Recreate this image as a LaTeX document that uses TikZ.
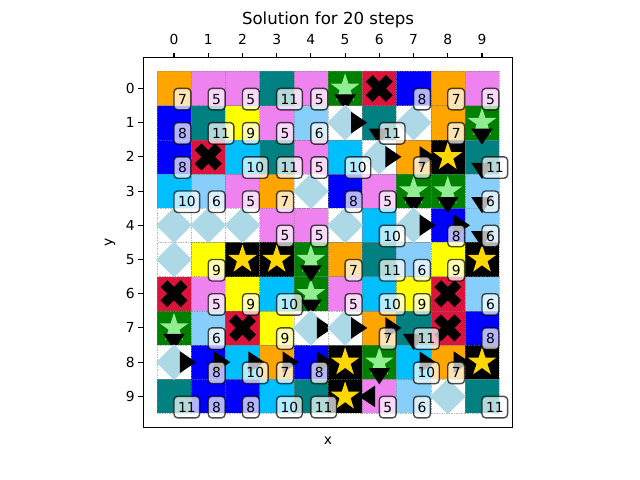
\documentclass[tikz,border=0pt]{standalone}
\usepackage{fontspec}
\setmainfont{DejaVu Sans}
\usepackage{xcolor}
\usetikzlibrary{shapes.geometric}
\definecolor{cellorange}{RGB}{255,165,0}
\definecolor{cellviolet}{RGB}{238,130,238}
\definecolor{cellteal}{RGB}{0,128,128}
\definecolor{cellblue}{RGB}{0,0,255}
\definecolor{cellsky}{RGB}{135,206,250}
\definecolor{cellyellow}{RGB}{255,255,0}
\definecolor{celldeep}{RGB}{0,191,255}
\definecolor{cellcrimson}{RGB}{220,20,60}
\definecolor{cellgreen}{RGB}{0,128,0}
\definecolor{markgold}{RGB}{255,215,0}
\definecolor{marklight}{RGB}{144,238,144}
\definecolor{markpale}{RGB}{173,216,230}
\tikzset{
  cell/.style={rectangle, minimum size=0.3422in, inner sep=0pt, outer sep=0pt,
    draw=gray, draw opacity=0.55, line width=0.2pt, densely dotted},
  starmark/.style={star, star points=5, star point ratio=2.618,
    minimum size=21.8pt, inner sep=0pt},
  icemark/.style={diamond, fill=markpale, minimum width=26pt,
    minimum height=26pt, inner sep=0pt},
  numbox/.style={rectangle, anchor=north west, rounded corners=2.6pt,
    draw=black, draw opacity=0.7, fill=white, fill opacity=0.7, text opacity=1,
    line width=1pt, inner xsep=2.9pt, inner ysep=0pt, outer sep=0pt,
    minimum height=15.5pt, font=\fontsize{10}{12}\selectfont},
  tickline/.style={line width=0.8pt},
  crossmark/.pic={
    \fill[black] (-.197,-.394) -- (0,-.197) -- (.197,-.394) -- (.394,-.197)
      -- (.197,0) -- (.394,.197) -- (.197,.394) -- (0,.197) -- (-.197,.394)
      -- (-.394,.197) -- (-.197,0) -- (-.394,-.197) -- cycle;
  },
  pointer/.pic={
    \fill[black] (-.236,-.315) -- (.236,0) -- (-.236,.315) -- cycle;
  }
}
% kind colour / number / row/column of the cells
\newcommand{\numberedcells}{
  cellorange/7/{0/0,0/8,1/8,2/7,3/3,5/5,7/6,8/3,8/8},
  cellviolet/5/{0/1,0/2,0/4,0/9,1/3,2/4,3/2,3/6,4/3,4/4,6/1,6/5,9/6},
  cellteal/11/{0/3,1/1,1/6,2/3,2/9,5/6,7/7,9/0,9/4,9/9},
  cellblue/8/{0/7,1/0,2/0,3/5,4/8,7/9,8/1,8/4,9/1,9/2},
  cellsky/6/{1/4,3/1,3/9,4/9,5/7,6/9,7/1,9/7},
  cellyellow/9/{1/2,5/1,5/8,6/2,6/7,7/3},
  celldeep/10/{2/2,2/5,3/0,4/6,6/3,6/6,8/2,8/7,9/3}}
\begin{document}
\begin{tikzpicture}[x=0.3422in, y=-0.3422in]
  \useasboundingbox (-5.085,-2.583) rectangle (13.617,11.443);

  % Axes frame
  \draw[tickline] (-0.9,-0.9) rectangle (9.9,9.9);
  \node[anchor=base, font=\fontsize{12}{14}\selectfont] (title) at (4.5,-1.853) {Solution for 20 steps};
  \node[anchor=base, font=\fontsize{10}{12}\selectfont] (xlabel) at (4.5,10.42) {x};
  \node[anchor=base, rotate=90, font=\fontsize{10}{12}\selectfont] (ylabel) at (-1.8,4.5) {y};

  % Ticks
  \foreach \i in {0,...,9} {
    \draw[tickline] (\i,-0.9) -- (\i,-1.042);
    \draw[tickline] (-0.9,\i) -- (-1.042,\i);
    \node[anchor=base, inner sep=0pt, font=\fontsize{10}{12}\selectfont] (xt\i) at (\i,-1.268) {\i};
    \node[anchor=east, inner sep=0pt, font=\fontsize{10}{12}\selectfont] (yt\i) at (-1.14,\i) {\i};
  }

  % Numbered cells
  \foreach \kindcolor/\kindnum/\kindcells in \numberedcells {
    \foreach \r/\c in \kindcells {
      \node[cell, fill=\kindcolor] (c\r\c) at (\c,\r) {};
    }
  }

  % Crimson cells
  \foreach \r/\c in {0/6,2/1,6/0,6/8,7/2,7/8} {
    \node[cell, fill=cellcrimson] (c\r\c) at (\c,\r) {};
    \pic at (c\r\c.center) {crossmark};
  }

  % Black cells
  \foreach \r/\c in {2/8,5/2,5/3,5/9,8/5,8/9,9/5} {
    \node[cell, fill=black] (c\r\c) at (\c,\r) {};
    \node[starmark, fill=markgold] (m\r\c) at (c\r\c.center) {};
  }

  % Green cells
  \foreach \r/\c in {0/5,1/9,3/7,3/8,5/4,6/4,7/0,8/6} {
    \node[cell, fill=cellgreen] (c\r\c) at (\c,\r) {};
    \node[starmark, fill=marklight] (m\r\c) at (c\r\c.center) {};
  }

  % Arrows on coloured cells
  \foreach \r/\c in {2/7,4/8,7/6,8/1,8/2,8/3,8/4,8/7,8/8} {
    \pic at (\c+0.41,\r) {pointer};
  }
  \foreach \r/\c in {0/5,1/6,1/9,2/9,3/7,3/8,3/9,4/9,5/4,6/4,7/0,7/7,8/6} {
    \pic[rotate=-90] at (\c,\r+0.41) {pointer};
  }
  \pic[rotate=180] at (5.64,9) {pointer};

  % White cells, last flag is an arrow
  \foreach \r/\c/\hasarrow in {1/5/1,1/7/0,2/6/1,3/4/0,4/0/0,4/1/0,4/2/0,4/5/0,4/7/1,5/0/0,7/4/1,7/5/1,8/0/1,9/8/0} {
    \node[cell, fill=white] (c\r\c) at (\c,\r) {};
    \node[icemark] (m\r\c) at (c\r\c.center) {};
    \ifnum\hasarrow=1
      \pic at (\c+0.41,\r) {pointer};
    \fi
  }

  % Number labels
  \foreach \kindcolor/\kindnum/\kindcells in \numberedcells {
    \foreach \r/\c in \kindcells {
      \node[numbox] (t\r\c) at (c\r\c.center) {\kindnum};
    }
  }
\end{tikzpicture}
\end{document}
